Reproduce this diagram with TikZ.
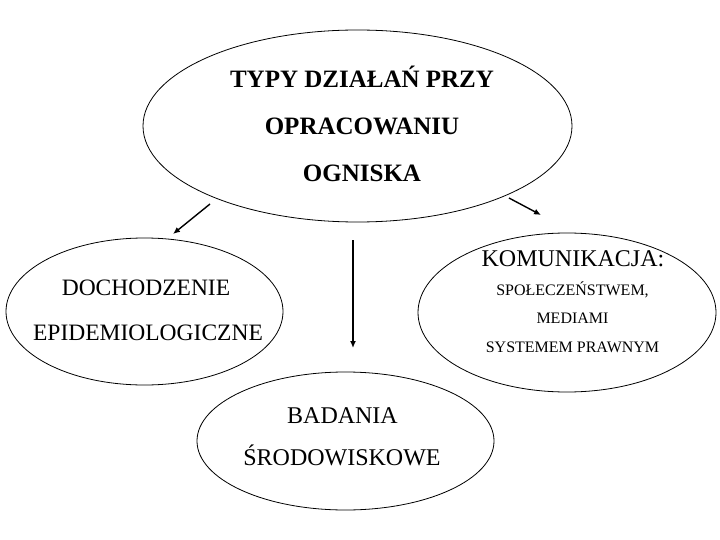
\documentclass[tikz,border=0pt]{standalone}
\usepackage{fontspec}
\setmainfont{Liberation Serif}
\usetikzlibrary{shapes.geometric,arrows.meta}
\begin{document}
\begin{tikzpicture}[x=1pt,y=-1pt,
  oval/.style={draw=black,ellipse,line width=0.8pt,inner sep=0pt,outer sep=0pt},
  lbl/.style={anchor=base,inner sep=0pt},
  arr/.style={line width=1.4pt,-{Latex[length=7pt,width=6pt]}}]
\useasboundingbox (0,0) rectangle (720,540);
\fill[white] (0,0) rectangle (720,540);
% ellipses
\node[oval,minimum width=429pt,minimum height=192pt] (top) at (357.5,126) {};
\node[oval,minimum width=277pt,minimum height=147pt] (left) at (144.5,311.5) {};
\node[oval,minimum width=298pt,minimum height=159pt] (right) at (567,312.5) {};
\node[oval,minimum width=297pt,minimum height=138pt] (bottom) at (345.5,441) {};
% top text
\node[lbl,font=\fontsize{25}{30}\selectfont\bfseries] (t1) at (362,88) {TYPY DZIAŁAŃ PRZY};
\node[lbl,font=\fontsize{25}{30}\selectfont\bfseries] (t2) at (362,135) {OPRACOWANIU};
\node[lbl,font=\fontsize{25}{30}\selectfont\bfseries] (t3) at (362,182) {OGNISKA};
% left text
\node[lbl,font=\fontsize{23.5}{28}\selectfont] (l1) at (146,295) {DOCHODZENIE};
\node[lbl,font=\fontsize{23.5}{28}\selectfont] (l2) at (148,340) {EPIDEMIOLOGICZNE};
% right text
\node[lbl,font=\fontsize{24}{28}\selectfont] (r1) at (573,266) {KOMUNIKACJA:};
\node[lbl,font=\fontsize{16}{20}\selectfont] (r2) at (572.5,295) {SPOŁECZEŃSTWEM,};
\node[lbl,font=\fontsize{16}{20}\selectfont] (r3) at (572.5,323) {MEDIAMI};
\node[lbl,font=\fontsize{16}{20}\selectfont] (r4) at (572.5,352) {SYSTEMEM PRAWNYM};
% bottom text
\node[lbl,font=\fontsize{24}{28}\selectfont] (b1) at (342.5,423) {BADANIA};
\node[lbl,font=\fontsize{24}{28}\selectfont] (b2) at (342,465) {ŚRODOWISKOWE};
% arrows
\coordinate (a1s) at (210,204);
\coordinate (a1e) at (173,234);
\coordinate (a2s) at (509,198);
\coordinate (a2e) at (541,215);
\coordinate (a3s) at (353,240);
\coordinate (a3e) at (353,348);
\draw[arr] (a1s) -- (a1e);
\draw[arr] (a2s) -- (a2e);
\draw[arr] (a3s) -- (a3e);
\end{tikzpicture}
\end{document}
